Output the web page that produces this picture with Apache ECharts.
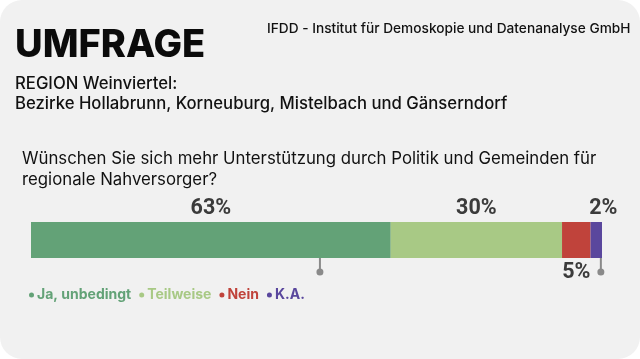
<!DOCTYPE html>
<html><head><meta charset="utf-8">
<script src="https://cdn.jsdelivr.net/npm/echarts@6/dist/echarts.min.js"></script>
<style>html,body{margin:0;padding:0;background:#fff}#c{width:640px;height:359px}</style>
</head><body><div id="c"></div>
<script>
const categories = ['Ja, unbedingt', 'Teilweise', 'Nein', 'K.A.'];
const values = [63, 30, 5, 2];
const colors = ['#63a277', '#a8c985', '#c0433b', '#5a479d'];
const labelPos = ['top', 'top', 'bottom', 'top'];
const pinValues = [50.6, 99.8];

const chart = echarts.init(document.getElementById('c'), null, {renderer: 'canvas'});
const font = 'Inter, "Open Sans", sans-serif';
const series = categories.map((c, i) => ({
  name: c, type: 'bar', stack: 'all', barWidth: 36,
  data: [values[i]],
  itemStyle: {color: colors[i]},
  label: {show: true, position: labelPos[i], distance: labelPos[i] === 'top' ? 2 : 4,
    offset: i === 3 ? [7, 0] : [0, 0],
    formatter: '{c}%', fontFamily: 'Roboto', fontWeight: 'bold', fontSize: 21.5, color: '#3b3b3b'},
  emphasis: {disabled: true}
}));
series.push({
  type: 'custom', name: 'pins', silent: true, z: 5,
  data: pinValues.map(v => [v, 0]),
  renderItem: (params, api) => {
    const p = api.coord([api.value(0), 0]);
    const y0 = p[1] + 18;
    return {type: 'group', children: [
      {type: 'line', shape: {x1: p[0], y1: y0, x2: p[0], y2: y0 + 13}, style: {stroke: '#8a8a8a', lineWidth: 2}},
      {type: 'circle', shape: {cx: p[0], cy: y0 + 14, r: 3.5}, style: {fill: '#8a8a8a'}}
    ]};
  }
});
chart.setOption({
  animation: false,
  backgroundColor: '#ffffff',
  graphic: [
    {type: 'rect', left: 0, top: 0, z: -10, shape: {width: 640, height: 359, r: 22}, style: {fill: '#f1f1f1'}},
    {type: 'text', left: 15, top: 27, style: {text: 'UMFRAGE', font: '800 38px ' + font, fill: '#0b0b0b'}},
    {type: 'text', left: 267, top: 22, style: {text: 'IFDD - Institut für Demoskopie und Datenanalyse GmbH', font: '500 13.7px ' + font, fill: '#111'}},
    {type: 'text', left: 15, top: 74, style: {text: 'REGION Weinviertel:\nBezirke Hollabrunn, Korneuburg, Mistelbach und Gänserndorf', font: '500 16.7px ' + font, lineHeight: 20, fill: '#111'}},
    {type: 'text', left: 22, top: 148, style: {text: 'Wünschen Sie sich mehr Unterstützung durch Politik und Gemeinden für\nregionale Nahversorger?', font: '400 16.8px ' + font, lineHeight: 21, fill: '#111'}}
  ],
  legend: {
    left: 24, top: 283, itemWidth: 5, itemHeight: 5, itemGap: 8, icon: 'circle', selectedMode: false,
    data: categories.map((c, i) => ({name: c, textStyle: {color: colors[i]}})),
    textStyle: {fontFamily: font, fontWeight: 'bold', fontSize: 14, padding: [0, 0, 0, -2]}
  },
  grid: {left: 31, right: 38, top: 222, height: 36},
  xAxis: {type: 'value', min: 0, max: 100, show: false},
  yAxis: {type: 'category', data: ['Q'], show: false},
  series
});
</script></body></html>
